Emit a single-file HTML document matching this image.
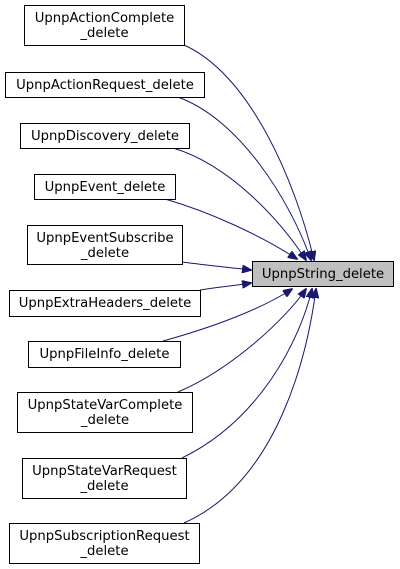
<!DOCTYPE html>
<html><head><style>html,body{margin:0;padding:0;background:#fff}svg{display:block}</style></head>
<body>
<svg width="400" height="569" viewBox="0 0 400 569" xmlns="http://www.w3.org/2000/svg" font-family="DejaVu Sans, Liberation Sans, sans-serif" font-size="13.2">
<defs><marker id="a" markerWidth="10" markerHeight="8" refX="9" refY="4" orient="auto" markerUnits="userSpaceOnUse"><path d="M0,0 L10,4 L0,8 z" fill="#191970" stroke="#191970"/></marker></defs>
<g fill="none" stroke="#191970" stroke-width="1" marker-end="url(#a)">
<path d="M184,45 C250,75 295,180 314,260"/>
<path d="M178,97 C240,120 290,200 311,260"/>
<path d="M173,148 C230,165 280,220 306,260"/>
<path d="M165,199 C210,212 260,235 297,259"/>
<path d="M182,262 C205,265 225,267 251,270"/>
<path d="M200,290 C220,287 232,286 251,283"/>
<path d="M163,341 C210,328 260,310 292,289"/>
<path d="M178,392 C230,370 285,320 306,289"/>
<path d="M182,458 C260,420 300,340 312,289"/>
<path d="M184,523 C280,480 308,350 316,289"/>
</g>
<g fill="#fff" stroke="#000" stroke-width="1">
<rect x="24.5" y="5.5" width="160" height="40"/>
<rect x="5.5" y="72.5" width="199" height="25"/>
<rect x="20.5" y="123.5" width="169" height="25"/>
<rect x="34.5" y="174.5" width="141" height="25"/>
<rect x="27.5" y="225.5" width="155" height="39"/>
<rect x="252.5" y="261.5" width="141" height="25" fill="#bfbfbf"/>
<rect x="9.5" y="290.5" width="191" height="26"/>
<rect x="28.5" y="341.5" width="152" height="26"/>
<rect x="17.5" y="392.5" width="175" height="40"/>
<rect x="22.5" y="458.5" width="164" height="40"/>
<rect x="9.5" y="523.5" width="190" height="40"/>
</g>
<g fill="#000" text-anchor="middle">
<text x="104.5" y="22">UpnpActionComplete</text><text x="104.5" y="37">_delete</text>
<text x="105" y="89">UpnpActionRequest_delete</text>
<text x="105" y="140">UpnpDiscovery_delete</text>
<text x="105" y="191">UpnpEvent_delete</text>
<text x="105" y="242">UpnpEventSubscribe</text><text x="105" y="257">_delete</text>
<text x="323" y="278">UpnpString_delete</text>
<text x="105" y="307">UpnpExtraHeaders_delete</text>
<text x="104.5" y="358">UpnpFileInfo_delete</text>
<text x="105" y="409">UpnpStateVarComplete</text><text x="105" y="424">_delete</text>
<text x="104.5" y="475">UpnpStateVarRequest</text><text x="104.5" y="490">_delete</text>
<text x="104.5" y="540">UpnpSubscriptionRequest</text><text x="104.5" y="555">_delete</text>
</g>
</svg>
</body></html>
